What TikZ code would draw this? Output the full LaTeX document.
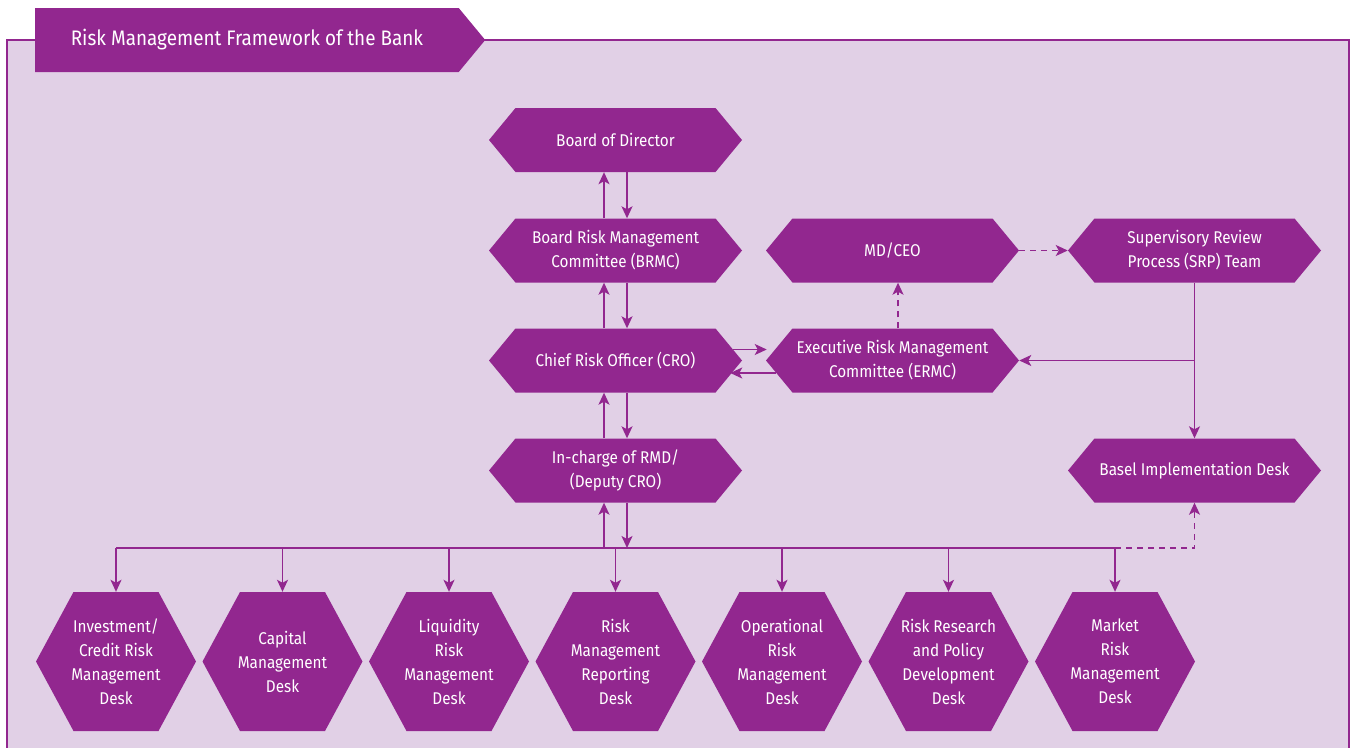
\documentclass[tikz,border=0pt]{standalone}
\usepackage{fontspec}
\setmainfont{Fira Sans}[FakeStretch=0.9]
\usetikzlibrary{arrows.meta,shapes.symbols}

\definecolor{rmfpurple}{HTML}{92278F}
\definecolor{rmfback}{HTML}{E1D0E6}

\tikzset{
	unitbox/.style={signal, signal to=east and west, fill=rmfpurple, text=white,
		font=\fontsize{17}{24}\selectfont, align=center, inner sep=0pt},
	topunit/.style={unitbox, minimum width=253pt, minimum height=64pt, signal pointer angle=100.8},
	deskunit/.style={unitbox, minimum width=160pt, minimum height=139pt, signal pointer angle=123.3, inner xsep=-8pt},
	busline/.style={draw=rmfpurple, line width=1.5pt},
	flowarrow/.style={busline, -{Stealth[length=12pt,width=11pt,inset=3pt]}},
	dasharrow/.style={flowarrow, dash pattern=on 6pt off 5pt},
}

\begin{document}
\begin{tikzpicture}[x=1pt, y=-1pt]

	\useasboundingbox (0,0) rectangle (1351,747);

	% Draw the frame and the title banner.
	\draw[draw=rmfpurple, line width=2pt, fill=rmfback] (7,40) rectangle (1349,790);
	\node[signal, signal to=east, signal pointer angle=100.8, fill=rmfpurple, text=white,
		minimum width=450pt, minimum height=64pt, inner sep=0pt, anchor=west,
		font=\fontsize{21}{24}\selectfont] (title) at (35,40) {Risk Management Framework of the Bank\hspace{10pt}};

	% Draw the committees.
	\node[topunit] (board) at (615.5,140) {Board of Director};
	\node[topunit] (brmc) at (615.5,250.5) {Board Risk Management\\Committee (BRMC)};
	\node[topunit] (cro) at (615.5,360.5) {Chief Risk Officer (CRO)};
	\node[topunit] (rmd) at (615.5,470.5) {In-charge of RMD/\\(Deputy CRO)};
	\node[topunit] (md) at (892.5,250.5) {MD/CEO};
	\node[topunit] (ermc) at (892.5,360.5) {Executive Risk Management\\Committee (ERMC)};
	\node[topunit] (srp) at (1194.5,250.5) {Supervisory Review\\Process (SRP) Team};
	\node[topunit] (basel) at (1194.5,470.5) {Basel Implementation Desk};

	% Draw the desks.
	\foreach \i/\x/\desktext in {1/116/{Investment/\\Credit Risk\\Management\\Desk},
		2/282.5/{Capital\\Management\\Desk},
		3/449/{Liquidity\\Risk\\Management\\Desk},
		4/615.5/{Risk\\Management\\Reporting\\Desk},
		5/782/{Operational\\Risk\\Management\\Desk},
		6/948.5/{Risk Research\\and Policy\\Development\\Desk},
		7/1115/{Market\\Risk\\Management\\Desk}}{
		\node[deskunit] (desk\i) at (\x,661.5) {\desktext};
	}

	% Draw the two-way links of the chain.
	\foreach \upper/\lower in {board/brmc, brmc/cro, cro/rmd}{
		\draw[flowarrow] ([xshift=-11.5pt]\lower.north) -- ([xshift=-11.5pt]\upper.south);
		\draw[flowarrow] ([xshift=11.5pt]\upper.south) -- ([xshift=11.5pt]\lower.north);
	}

	% Draw the bus to the desks.
	\coordinate (bus) at (615.5,548);
	\draw[flowarrow] ([xshift=-11.5pt]bus) -- ([xshift=-11.5pt]rmd.south);
	\draw[flowarrow] ([xshift=11.5pt]rmd.south) -- ([xshift=11.5pt]bus);
	\draw[busline] (desk1.north |- bus) -- (desk7.north |- bus);
	\foreach \i in {1,...,7}{
		\draw[flowarrow] (desk\i.north |- bus) -- (desk\i.north);
	}
	\draw[dasharrow] (desk7.north |- bus) -- (basel.south |- bus) -- (basel.south);

	% Draw the links round the ERMC.
	\draw[flowarrow] ([xshift=-9pt,yshift=11pt]cro.east) -- ([xshift=1pt,yshift=11pt]ermc.west);
	\draw[flowarrow] ([xshift=10pt,yshift=-12.5pt]ermc.west) -- ([xshift=-12pt,yshift=-12.5pt]cro.east);
	\draw[dasharrow] ([xshift=5.5pt]ermc.north) -- ([xshift=5.5pt]md.south);
	\draw[dasharrow] (md.east) -- (srp.west);
	\draw[flowarrow] (srp.south) -- (basel.north);
	\draw[flowarrow] (srp.south |- ermc.east) -- (ermc.east);

\end{tikzpicture}
\end{document}
